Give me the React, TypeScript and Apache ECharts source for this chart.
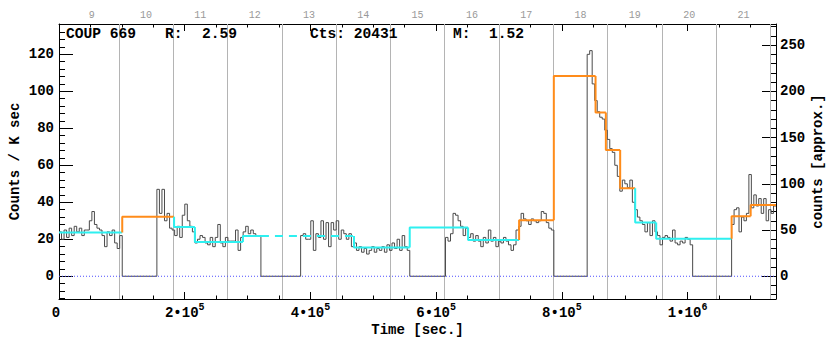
import React, { useEffect, useRef } from 'react';
import * as echarts from 'echarts';

// ---------- axes ----------
const X_MAX = 1140600;
const Y_MIN = -12.3;
const Y_MAX = 136.4;
const COUNTS_FACTOR = 2; // right axis: counts [approx.] = rate * 2
const xMajorTicks = [0, 200000, 400000, 600000, 800000, 1000000];
const xMinorStep = 50000;
const leftMajorTicks = [0, 20, 40, 60, 80, 100, 120];
const leftMinorStep = 4;
const rightMajorTicks = [0, 50, 100, 150, 200, 250];
const rightMinorStep = 10;

// ---------- days (top axis) ----------
const dayNumbers = [9, 10, 11, 12, 13, 14, 15, 16, 17, 18, 19, 20, 21];
const dayLineNumbers = [10, 11, 12, 13, 14, 15, 16, 17, 18, 19, 20, 21, 22];
const DAY10_START = 95200;
const DAY_SEC = 86400;

// ---------- light curve (counts / ksec), observed segments ----------
const segStarts = [0, 155700, 384400, 614800, 840200, 1070000];
const segEnds = [100600, 321200, 558000, 787200, 1008000, 1140600];
const seg1 = [24, 20, 25, 21, 26, 22, 27, 24, 26, 22, 25, 25, 30, 35, 28, 26, 25, 22, 16, 24, 22, 25, 18, 15, 22];
const seg2 = [47, 34, 47, 30, 34, 26, 25, 22, 27, 21, 33, 39, 30, 27, 24, 18, 20, 22, 21, 18, 17, 21, 16, 21, 28, 18, 16, 21, 19, 19, 19, 25, 14, 21, 24, 27, 23, 25, 23, 22, 22];
const seg3 = [22, 23, 20, 20, 30, 14, 23, 21, 30, 20, 29, 16, 29, 25, 30, 20, 25, 23, 20, 23, 16, 18, 14, 16, 13, 15, 12, 14, 16, 13, 15, 14, 16, 13, 17, 14, 18, 15, 20, 14, 22, 16, 14];
const seg4 = [21, 19, 23, 34, 33, 30, 27, 22, 26, 21, 23, 19, 22, 19, 16, 21, 18, 25, 19, 21, 16, 19, 18, 21, 19, 17, 14, 17, 25, 27, 34, 31, 30, 28, 31, 30, 29, 30, 35, 34, 29, 26, 25];
const seg5 = [120, 122, 104, 95, 89, 86, 85, 79, 74, 69, 67, 60, 54, 46, 52, 50, 48, 52, 40, 36, 32, 30, 28, 24, 29, 22, 30, 24, 22, 17, 21, 22, 21, 19, 25, 18, 17, 19, 18, 21, 20, 17];
const seg6 = [28, 36, 37, 24, 32, 30, 34, 55, 37, 44, 38, 42, 34, 42, 30, 36, 34, 38];
const segments = [seg1, seg2, seg3, seg4, seg5, seg6];

// ---------- Bayesian blocks ----------
const blockEdges = [0, 100600, 183060, 216170, 292580, 321240, 469280, 557940, 650750, 731930, 787170, 853550, 869950, 892710, 916590, 950020, 1070000, 1100290, 1140600];
const blockValues = [23.6, 32.2, 26.6, 18.5, 21.8, 21.8, 15.5, 26.3, 19.6, 30.3, 108.3, 88.6, 68.3, 47.6, 29.0, 20.3, 32.4, 38.5];
const blockKinds = ['c', 'o', 'c', 'c', 'c', 'cd', 'c', 'c', 'c', 'o', 'o', 'o', 'o', 'o', 'c', 'c', 'o', 'o'];

// ---------- annotations ----------
const annoTexts = ['COUP 669', 'R:', '2.59', 'Cts: 20431', 'M:', '1.52'];
const annoLeft = [66, 165, 202, 310, 453, 489];

const FONT = '"Liberation Mono", "DejaVu Sans Mono", monospace';
const CYAN = '#2ef0f0';
const ORANGE = '#ff8c1a';

function stepRange(from: number, to: number, step: number) {
  const out: number[] = [];
  for (let v = from; v <= to + 1e-9; v += step) out.push(Math.round(v * 1000) / 1000);
  return out;
}

function buildCurve() {
  const pts: [number, number][] = [];
  segments.forEach((vals, s) => {
    const a = segStarts[s];
    const b = segEnds[s];
    const w = (b - a) / vals.length;
    vals.forEach((v, i) => pts.push([a + i * w, v]));
    pts.push([b, s === segments.length - 1 ? vals[vals.length - 1] : 0]);
  });
  return pts;
}

function xLabel(v: number) {
  if (v === 0) return '{b|0}{s| }';
  const exp = Math.floor(Math.log10(v) + 1e-9);
  const mant = Math.round(v / Math.pow(10, exp));
  return `{b|${mant}•10}{s|${exp}}`;
}

function buildOption() {
  const curve = buildCurve();
  const boldText = { fontFamily: FONT, fontWeight: 'bold', fontSize: 14, color: '#000' };
  const xMinor = stepRange(0, X_MAX, xMinorStep);
  const leftMinor = stepRange(Math.ceil(Y_MIN / leftMinorStep) * leftMinorStep, Y_MAX, leftMinorStep);
  const rMin = Y_MIN * COUNTS_FACTOR;
  const rMax = Y_MAX * COUNTS_FACTOR;
  const rightMinor = stepRange(Math.ceil(rMin / rightMinorStep) * rightMinorStep, rMax, rightMinorStep);
  const dayCenters = dayNumbers.map((d) => DAY10_START + (d - 10) * DAY_SEC + DAY_SEC / 2);
  const dayLines = dayLineNumbers.map((d) => DAY10_START + (d - 10) * DAY_SEC).filter((t) => t < X_MAX);

  const axisLine = { show: true, onZero: false, lineStyle: { color: '#000', width: 1 } };
  const noLine = { show: false, onZero: false };
  const tickStyle = { color: '#000', width: 1 };

  const xBase = { type: 'value', min: 0, max: X_MAX, splitLine: { show: false }, gridIndex: 0 };
  const yBase = { type: 'value', min: Y_MIN, max: Y_MAX, splitLine: { show: false } };
  const yRBase = { type: 'value', min: rMin, max: rMax, splitLine: { show: false } };

  const blockSeries = blockValues.map((v, i) => {
    const a = blockEdges[i];
    const b = blockEdges[i + 1];
    const data: [number, number][] = i === 0 ? [[a, v], [b, v]] : [[a, blockValues[i - 1]], [a, v], [b, v]];
    const kind = blockKinds[i];
    return {
      type: 'line',
      data,
      xAxisIndex: 0,
      yAxisIndex: 0,
      showSymbol: false,
      symbol: 'none',
      silent: true,
      z: 4,
      lineStyle: {
        color: kind === 'o' ? ORANGE : CYAN,
        width: 2,
        type: kind === 'cd' ? [8, 6] : 'solid',
      },
    } as any;
  });

  return {
    animation: false,
    backgroundColor: '#ffffff',
    grid: { left: 59, right: 54, top: 24, bottom: 40, containLabel: false, outerBoundsMode: 'none' },
    xAxis: [
      {
        ...xBase,
        position: 'bottom',
        axisLine,
        axisTick: { show: true, inside: true, length: 7, customValues: xMajorTicks, lineStyle: tickStyle },
        axisLabel: {
          show: true,
          customValues: xMajorTicks,
          margin: 3,
          formatter: xLabel,
          rich: {
            b: { ...boldText, verticalAlign: 'bottom' },
            s: { fontFamily: FONT, fontWeight: 'bold', fontSize: 10, color: '#000', verticalAlign: 'bottom', padding: [0, 0, 8, 0] },
          },
        },
        name: 'Time [sec.]',
        nameLocation: 'middle',
        nameGap: 24,
        nameMoveOverlap: false,
        nameTextStyle: boldText,
      },
      {
        ...xBase,
        position: 'bottom',
        axisLine: noLine,
        axisTick: { show: true, inside: true, length: 3.5, customValues: xMinor, lineStyle: tickStyle },
        axisLabel: { show: false },
      },
      {
        ...xBase,
        position: 'top',
        axisLine,
        axisTick: { show: true, inside: true, length: 7, customValues: xMajorTicks, lineStyle: tickStyle },
        axisLabel: {
          show: true,
          customValues: dayCenters,
          margin: 4,
          fontFamily: FONT,
          fontSize: 10,
          color: '#999',
          formatter: (v: number) => String(Math.round((v - DAY10_START - DAY_SEC / 2) / DAY_SEC) + 10),
        },
      },
      {
        ...xBase,
        position: 'top',
        axisLine: noLine,
        axisTick: { show: true, inside: true, length: 3.5, customValues: xMinor, lineStyle: tickStyle },
        axisLabel: { show: false },
      },
    ],
    yAxis: [
      {
        ...yBase,
        position: 'left',
        axisLine,
        axisTick: { show: true, inside: true, length: 14, customValues: leftMajorTicks, lineStyle: tickStyle },
        axisLabel: { show: true, customValues: leftMajorTicks, margin: 5, ...boldText },
        name: 'Counts / K sec',
        nameLocation: 'middle',
        nameRotate: 90,
        nameGap: 37,
        nameMoveOverlap: false,
        nameTextStyle: boldText,
      },
      {
        ...yBase,
        position: 'left',
        axisLine: noLine,
        axisTick: { show: true, inside: true, length: 6, customValues: leftMinor, lineStyle: tickStyle },
        axisLabel: { show: false },
      },
      {
        ...yRBase,
        position: 'right',
        axisLine,
        axisTick: { show: true, inside: true, length: 14, customValues: rightMajorTicks, lineStyle: tickStyle },
        axisLabel: { show: true, customValues: rightMajorTicks, margin: 4, ...boldText },
        name: 'counts [approx.]',
        nameLocation: 'middle',
        nameRotate: 90,
        nameGap: 35,
        nameMoveOverlap: false,
        nameTextStyle: boldText,
      },
      {
        ...yRBase,
        position: 'right',
        axisLine: noLine,
        axisTick: { show: true, inside: true, length: 6, customValues: rightMinor, lineStyle: tickStyle },
        axisLabel: { show: false },
      },
    ],
    graphic: annoTexts.map((t, i) => ({
      type: 'text',
      left: annoLeft[i],
      top: 26,
      z: 10,
      style: { text: t, fill: '#000', fontFamily: FONT, fontWeight: 'bold', fontSize: 14.6 },
    })),
    series: [
      {
        type: 'line',
        data: curve,
        xAxisIndex: 0,
        yAxisIndex: 0,
        step: 'end',
        showSymbol: false,
        symbol: 'none',
        silent: true,
        z: 3,
        lineStyle: { color: '#4a4a4a', width: 1 },
        markLine: {
          silent: true,
          z: 1,
          symbol: ['none', 'none'],
          label: { show: false },
          lineStyle: { color: '#b4b4b4', width: 1, type: 'solid' },
          data: dayLines.map((t) => ({ xAxis: t })),
        },
      },
      {
        type: 'line',
        data: [[0, 0], [X_MAX, 0]],
        xAxisIndex: 0,
        yAxisIndex: 0,
        showSymbol: false,
        symbol: 'none',
        silent: true,
        z: 5,
        lineStyle: { color: '#4d4dff', width: 1, type: [1, 2] },
      },
      ...blockSeries,
    ],
  };
}

export default function App() {
  const ref = useRef<HTMLDivElement>(null);
  useEffect(() => {
    if (!ref.current) return;
    const chart = echarts.init(ref.current, null, { renderer: 'svg' });
    chart.setOption(buildOption() as any);
    return () => chart.dispose();
  }, []);
  return (
    <div
      ref={ref}
      style={{ position: 'fixed', left: 0, top: 0, width: 830, height: 339, background: '#fff' }}
    />
  );
}
